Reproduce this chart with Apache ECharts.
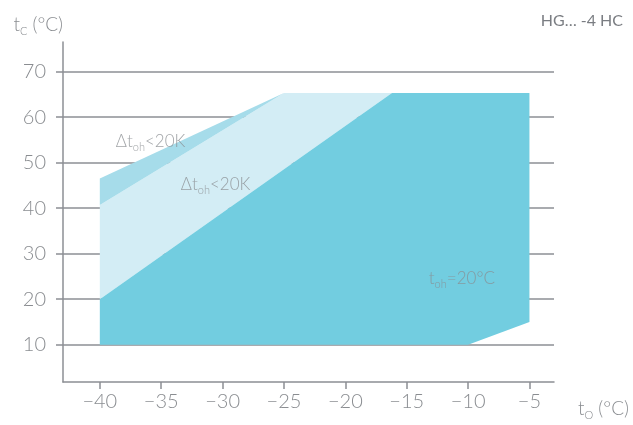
<!DOCTYPE html>
<html><head><meta charset="utf-8">
<script src="https://cdn.jsdelivr.net/npm/echarts@6/dist/echarts.min.js"></script>
<style>html,body{margin:0;padding:0;background:#fff}#c{width:633px;height:425px}</style>
</head><body><div id="c"></div>
<script>
// Data
const xTicks = [-40, -35, -30, -25, -20, -15, -10, -5];
const yTicks = [10, 20, 30, 40, 50, 60, 70];
// Light region (Δt_oh < 20K, inner)
const lightX = [-40, -40, -25, -16.2];
const lightY = [20, 40.7, 65.3, 65.3];
// Band region (Δt_oh < 20K, outer)
const bandX = [-40, -40, -25];
const bandY = [40.7, 46.5, 65.3];
// Main region (t_oh = 20°C)
const darkX = [-40, -40, -16.2, -5, -5, -10];
const darkY = [10, 20, 65.3, 65.3, 15, 10];
// Annotations
const labelTexts = ['{a|Δt}{b|oh}{a|<20K}', '{a|Δt}{b|oh}{a|<20K}', '{a|t}{b|oh}{a|=20°C}'];
const labelX = [-38.7, -33.4, -13.2];
const labelY = [54.6, 45.1, 24.6];

const FONT = 'Lato';
const GRAY = '#8c8f94';
const TXT = '#8a8d91';

function zip(xs, ys) { return xs.map((x, i) => [x, ys[i]]); }
function polySeries(xs, ys, color) {
  return {
    type: 'custom',
    silent: true,
    data: zip(xs, ys),
    renderItem: function (params, api) {
      if (params.dataIndex !== 0) return null;
      const pts = zip(xs, ys).map(p => api.coord(p));
      return { type: 'polygon', shape: { points: pts }, style: { fill: color } };
    },
    z: 1
  };
}
const rich = {
  a: { fontFamily: FONT, fontWeight: 300, fontSize: 17, color: TXT, lineHeight: 20 },
  b: { fontFamily: FONT, fontWeight: 300, fontSize: 11, color: TXT, lineHeight: 20, padding: [12, 0, 0, 0] }
};
const nameRich = {
  a: { fontFamily: FONT, fontWeight: 300, fontSize: 19, color: TXT, lineHeight: 22 },
  b: { fontFamily: FONT, fontWeight: 300, fontSize: 11, color: TXT, lineHeight: 22, padding: [12, 0, 0, 0] }
};

const chart = echarts.init(document.getElementById('c'), null, { renderer: 'canvas' });
chart.setOption({
  animation: false,
  title: {
    text: 'HG… -4 HC', right: 5, top: 8,
    textStyle: { fontFamily: FONT, fontWeight: 400, fontSize: 16, color: '#7a7d82' }
  },
  grid: { left: 63, right: 79, top: 42, bottom: 43 },
  xAxis: {
    type: 'value', min: -43, max: -3,
    name: '{a|t}{b|O}{a| (°C)}', nameLocation: 'end', nameGap: 24,
    nameTextStyle: { rich: nameRich, align: 'left', verticalAlign: 'middle', padding: [54, 0, 0, 0] },
    axisLine: { show: true, lineStyle: { color: GRAY, width: 1.5 } },
    axisTick: { show: true, customValues: xTicks, length: 7, lineStyle: { color: GRAY, width: 1.5 } },
    axisLabel: { customValues: xTicks, fontFamily: FONT, fontWeight: 300, fontSize: 20, color: TXT, margin: 10,
      formatter: v => String(v).replace('-', '−') },
    splitLine: { show: false }
  },
  yAxis: {
    type: 'value', min: 1.8, max: 76.5,
    name: '{a|t}{b|C}{a| (°C)}', nameLocation: 'end', nameGap: 6,
    nameTextStyle: { rich: nameRich, align: 'right', verticalAlign: 'bottom', padding: [0, 0, 0, 0] },
    axisLine: { show: true, lineStyle: { color: GRAY, width: 1.5 } },
    axisTick: { show: true, customValues: yTicks, length: 7, lineStyle: { color: GRAY, width: 1.5 } },
    axisLabel: { customValues: yTicks, fontFamily: FONT, fontWeight: 300, fontSize: 20, color: TXT, margin: 17 },
    splitLine: { show: true, lineStyle: { color: GRAY, width: 1.5 } }
  },
  series: [
    polySeries(lightX, lightY, '#D3EDF5'),
    polySeries(bandX, bandY, '#A6DCEA'),
    polySeries(darkX, darkY, '#72CDE0'),
    {
      type: 'scatter', symbolSize: 0, silent: true, z: 5,
      data: labelX.map((x, i) => ({ value: [x, labelY[i]], label: { formatter: labelTexts[i] } })),
      label: { show: true, position: 'right', distance: 0, rich: rich }
    }
  ]
});
</script></body></html>
